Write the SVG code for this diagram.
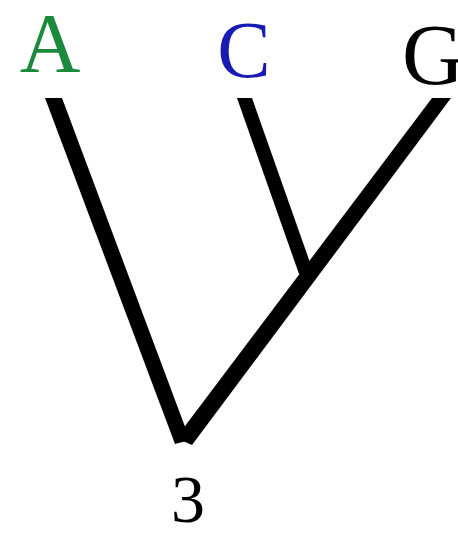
<svg xmlns="http://www.w3.org/2000/svg" width="458" height="535" viewBox="0 0 458 535">
<style>
.lbl{font-family:"Liberation Serif","Times New Roman",serif;text-anchor:middle}
.edge{fill:#000;stroke:none}
</style>
<rect width="458" height="535" fill="#fff"/>
<g id="connectors">
<path class="edge" d="M45,98 L62,98 L190,440 L175,444 Z"/>
<path class="edge" d="M432,98 L451,98 L192,445 L176,438 Z"/>
<path class="edge" d="M237,98 L252,98 L313,271 L299,274 Z"/>
</g>
<g id="node-A"><text class="lbl" x="50" y="72" font-size="84" fill="#1b8a3c">A</text></g>
<g id="node-C"><text class="lbl" x="244" y="77" font-size="80" fill="#1a1ab4">C</text></g>
<g id="node-G"><text class="lbl" x="402" y="84" font-size="86" fill="#000" style="text-anchor:start">G</text></g>
<g id="node-3"><text class="lbl" x="188" y="522" font-size="68" fill="#000">3</text></g>
</svg>
